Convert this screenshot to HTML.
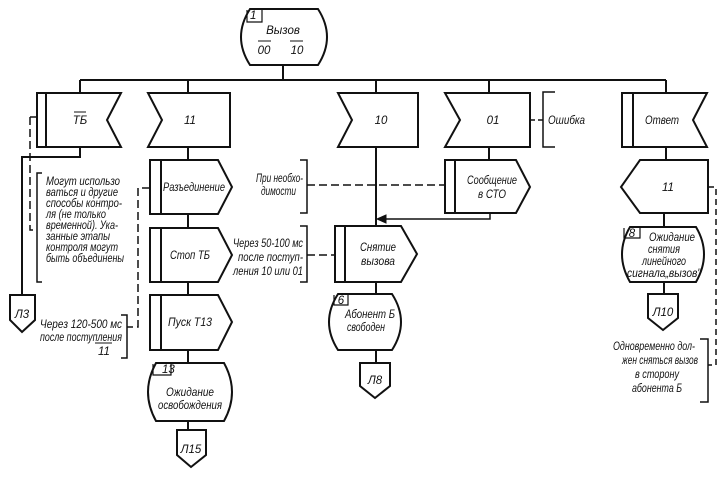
<!DOCTYPE html>
<html><head><meta charset="utf-8"><style>
html,body{margin:0;padding:0;background:#fff}
svg{display:block}
text{font-family:"Liberation Sans",sans-serif;font-style:italic;font-size:11.5px;fill:#111}
</style></head><body>
<svg width="726" height="479" viewBox="0 0 726 479" xmlns="http://www.w3.org/2000/svg">
<g fill="none" stroke="#111" stroke-width="2">
<path d="M250,9 L318,9 Q336,37 318,65 L250,65 Q232,37 250,9 Z"/>
<path d="M247,10 L247,22 L262,22 L262,10" stroke-width="1.2"/>
<line x1="258" y1="41" x2="271" y2="41" stroke-width="1"/>
<line x1="290" y1="41" x2="303" y2="41" stroke-width="1"/>
<line x1="283" y1="65" x2="283" y2="80"/>
<line x1="80" y1="80" x2="666" y2="80"/>
<line x1="80" y1="80" x2="80" y2="93"/>
<line x1="188" y1="80" x2="188" y2="93"/>
<line x1="376" y1="80" x2="376" y2="93"/>
<line x1="489" y1="80" x2="489" y2="93"/>
<line x1="666" y1="80" x2="666" y2="93"/>

<path d="M37,93 L121,93 L107,120 L121,147 L37,147 Z"/>
<line x1="46" y1="93" x2="46" y2="147"/>
<path d="M80,147 L80,157 L22,157 L22,295"/>
<path d="M10,295 L35,295 L35,320 L22,332 L10,320 Z"/>
<path d="M30,117 L37,117 M30,117 L30,230 L37,230" stroke-dasharray="8,4" stroke-width="1.5"/>
<path d="M42,173 L37,173 L37,282 L42,282" stroke-width="1.5"/>

<path d="M148,93 L230,93 L230,147 L148,147 L162,120 Z"/>
<line x1="188" y1="147" x2="188" y2="160"/>
<path d="M150,160 L218,160 L232,187 L218,214 L150,214 Z"/>
<line x1="161" y1="160" x2="161" y2="214"/>
<line x1="188" y1="214" x2="188" y2="228"/>
<path d="M150,228 L218,228 L232,255 L218,282 L150,282 Z"/>
<line x1="161" y1="228" x2="161" y2="282"/>
<line x1="188" y1="282" x2="188" y2="295"/>
<path d="M150,295 L218,295 L232,322 L218,350 L150,350 Z"/>
<line x1="161" y1="295" x2="161" y2="350"/>
<line x1="188" y1="350" x2="188" y2="363"/>
<path d="M156,363 L224,363 Q240,392 224,421 L156,421 Q140,392 156,363 Z"/>
<path d="M153,364 L153,375 L171,375 L171,364" stroke-width="1.2"/>
<line x1="188" y1="421" x2="188" y2="430"/>
<path d="M177,430 L206,430 L206,455 L191,467 L177,455 Z"/>
<path d="M150,188 L138,188 L138,327 L127,327" stroke-dasharray="8,4" stroke-width="1.5"/>
<path d="M121,315 L127,315 L127,358 L121,358" stroke-width="1.5"/>
<line x1="95" y1="343" x2="112" y2="343" stroke-width="1"/>

<path d="M338,93 L418,93 L418,147 L338,147 L352,120 Z"/>
<line x1="376" y1="147" x2="376" y2="226"/>
<path d="M300,160 L307,160 L307,213 L300,213" stroke-width="1.5"/>
<line x1="307" y1="185" x2="445" y2="185" stroke-dasharray="8,4" stroke-width="1.5"/>
<path d="M300,226 L307,226 L307,282 L300,282" stroke-width="1.5"/>
<line x1="307" y1="255" x2="335" y2="255" stroke-dasharray="8,4" stroke-width="1.5"/>
<path d="M335,226 L401,226 L417,254 L401,282 L335,282 Z"/>
<line x1="345" y1="226" x2="345" y2="282"/>
<line x1="376" y1="282" x2="376" y2="294"/>
<path d="M338,294 L392,294 Q410,322 392,350 L338,350 Q320,322 338,294 Z"/>
<path d="M334,295 L334,305 L348,305 L348,295" stroke-width="1.2"/>
<line x1="376" y1="350" x2="376" y2="363"/>
<path d="M360,363 L390,363 L390,386 L375,398 L360,386 Z"/>

<path d="M445,93 L530,93 L530,147 L445,147 L460,120 Z"/>
<line x1="530" y1="120" x2="543" y2="120" stroke-dasharray="5,3" stroke-width="1.5"/>
<path d="M555,92 L543,92 L543,147 L555,147" stroke-width="1.5"/>
<line x1="489" y1="147" x2="489" y2="160"/>
<path d="M445,160 L516,160 L530,187 L516,213 L445,213 Z"/>
<line x1="455" y1="160" x2="455" y2="213"/>
<path d="M490,213 L490,219 L378,219" stroke-width="1.5"/>
<path d="M377,219 L386,215 L386,223 Z" fill="#111" stroke-width="1"/>

<path d="M622,93 L707,93 L693,120 L707,147 L622,147 Z"/>
<line x1="633" y1="93" x2="633" y2="147"/>
<line x1="666" y1="147" x2="666" y2="160"/>
<path d="M640,160 L708,160 L708,213 L640,213 L621,187 Z"/>
<line x1="664" y1="213" x2="664" y2="227"/>
<path d="M630,227 L696,227 Q712,254 696,282 L630,282 Q614,254 630,227 Z"/>
<path d="M624,228 L624,238 L640,238 L640,228" stroke-width="1.2"/>
<line x1="664" y1="282" x2="664" y2="294"/>
<path d="M648,294 L678,294 L678,318 L663,330 L648,318 Z"/>
<path d="M708,187 L716,187 L716,365 L708,365" stroke-dasharray="6,4" stroke-width="1.5"/>
<path d="M700,339 L708,339 L708,402 L700,402" stroke-width="1.5"/>
</g>

<text x="283" y="34" text-anchor="middle">Вызов</text>
<text x="264" y="54" text-anchor="middle">00</text>
<text x="297" y="54" text-anchor="middle">10</text>
<text x="250" y="19" font-size="7">1</text>

<text x="80" y="124" text-anchor="middle">ТБ</text>
<line x1="74" y1="112" x2="86" y2="112" stroke="#111" stroke-width="1"/>
<text x="190" y="124" text-anchor="middle">11</text>
<text x="381" y="124" text-anchor="middle">10</text>
<text x="493" y="124" text-anchor="middle">01</text>
<text x="548" y="124" textLength="37" lengthAdjust="spacingAndGlyphs">Ошибка</text>
<text x="662" y="124" text-anchor="middle" textLength="34" lengthAdjust="spacingAndGlyphs">Ответ</text>

<text x="46" y="185" textLength="74" lengthAdjust="spacingAndGlyphs">Могут использо</text>
<text x="46" y="196" textLength="72" lengthAdjust="spacingAndGlyphs">ваться и другие</text>
<text x="46" y="207" textLength="76" lengthAdjust="spacingAndGlyphs">способы контро-</text>
<text x="46" y="218" textLength="60" lengthAdjust="spacingAndGlyphs">ля (не только</text>
<text x="46" y="229" textLength="72" lengthAdjust="spacingAndGlyphs">временной). Ука-</text>
<text x="46" y="240" textLength="64" lengthAdjust="spacingAndGlyphs">занные этапы</text>
<text x="46" y="251" textLength="72" lengthAdjust="spacingAndGlyphs">контроля могут</text>
<text x="46" y="262" textLength="78" lengthAdjust="spacingAndGlyphs">быть объединены</text>
<text x="22" y="318" text-anchor="middle">Л3</text>

<text x="163" y="191" textLength="62" lengthAdjust="spacingAndGlyphs">Разъединение</text>
<text x="190" y="259" text-anchor="middle" textLength="40" lengthAdjust="spacingAndGlyphs">Стоп ТБ</text>
<text x="190" y="326" text-anchor="middle" textLength="44" lengthAdjust="spacingAndGlyphs">Пуск Т13</text>
<text x="162" y="373" font-size="9">13</text>
<text x="190" y="396" text-anchor="middle" textLength="48" lengthAdjust="spacingAndGlyphs">Ожидание</text>
<text x="190" y="409" text-anchor="middle" textLength="64" lengthAdjust="spacingAndGlyphs">освобождения</text>
<text x="191" y="453" text-anchor="middle">Л15</text>

<text x="40" y="328" textLength="82" lengthAdjust="spacingAndGlyphs">Через 120-500 мс</text>
<text x="40" y="341" textLength="82" lengthAdjust="spacingAndGlyphs">после поступления</text>
<text x="104" y="355" text-anchor="middle">11</text>
<text x="256" y="182" textLength="47" lengthAdjust="spacingAndGlyphs">При необхо-</text>
<text x="261" y="195" textLength="35" lengthAdjust="spacingAndGlyphs">димости</text>
<text x="233" y="247" textLength="70" lengthAdjust="spacingAndGlyphs">Через 50-100 мс</text>
<text x="238" y="261" textLength="65" lengthAdjust="spacingAndGlyphs">после поступ-</text>
<text x="233" y="275" textLength="70" lengthAdjust="spacingAndGlyphs">ления 10 или 01</text>

<text x="492" y="184" text-anchor="middle" textLength="50" lengthAdjust="spacingAndGlyphs">Сообщение</text>
<text x="492" y="198" text-anchor="middle" textLength="28" lengthAdjust="spacingAndGlyphs">в СТО</text>
<text x="378" y="251" text-anchor="middle" textLength="36" lengthAdjust="spacingAndGlyphs">Снятие</text>
<text x="378" y="265" text-anchor="middle" textLength="34" lengthAdjust="spacingAndGlyphs">вызова</text>
<text x="341" y="304" font-size="9" text-anchor="middle">6</text>
<text x="370" y="318" text-anchor="middle" textLength="50" lengthAdjust="spacingAndGlyphs">Абонент Б</text>
<text x="366" y="331" text-anchor="middle" textLength="38" lengthAdjust="spacingAndGlyphs">свободен</text>
<text x="375" y="384" text-anchor="middle">Л8</text>

<text x="668" y="191" text-anchor="middle">11</text>
<text x="632" y="237" font-size="9" text-anchor="middle">8</text>
<text x="672" y="241" text-anchor="middle" textLength="46" lengthAdjust="spacingAndGlyphs">Ожидание</text>
<text x="664" y="253" text-anchor="middle" textLength="32" lengthAdjust="spacingAndGlyphs">снятия</text>
<text x="664" y="265" text-anchor="middle" textLength="44" lengthAdjust="spacingAndGlyphs">линейного</text>
<text x="664" y="277" text-anchor="middle" textLength="74" lengthAdjust="spacingAndGlyphs">сигнала„вызов"</text>
<text x="663" y="316" text-anchor="middle">Л10</text>
<text x="654" y="350" text-anchor="middle" textLength="82" lengthAdjust="spacingAndGlyphs">Одновременно дол-</text>
<text x="660" y="364" text-anchor="middle" textLength="76" lengthAdjust="spacingAndGlyphs">жен сняться вызов</text>
<text x="657" y="378" text-anchor="middle" textLength="44" lengthAdjust="spacingAndGlyphs">в сторону</text>
<text x="657" y="392" text-anchor="middle" textLength="50" lengthAdjust="spacingAndGlyphs">абонента Б</text>
</svg>
</body></html>
